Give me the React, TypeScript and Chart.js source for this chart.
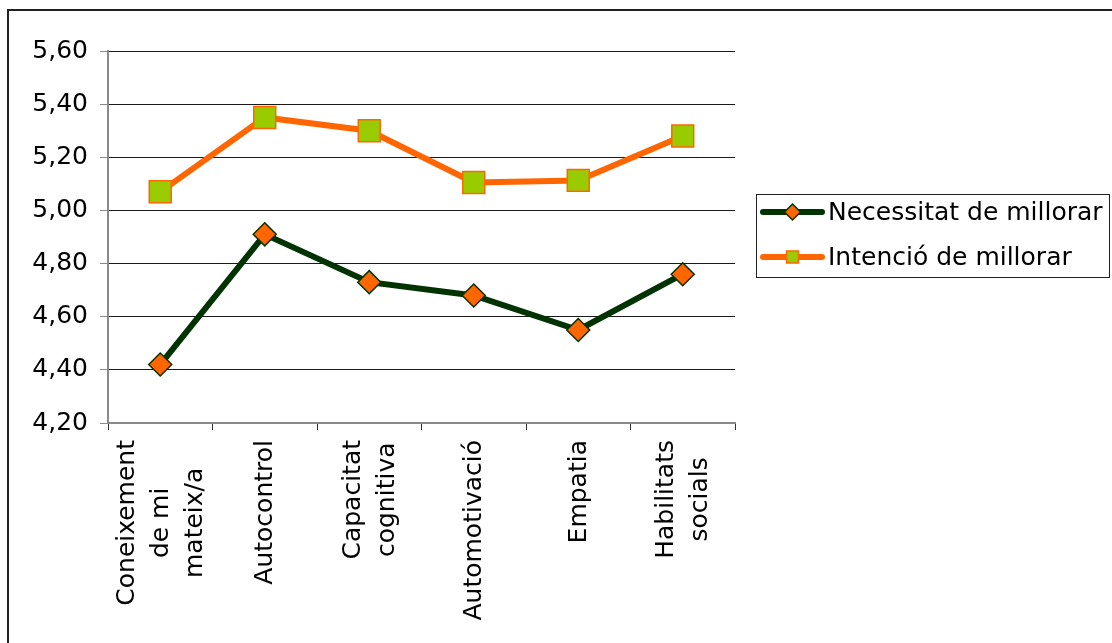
import React, { useEffect, useRef } from "react";
import { Chart, registerables } from "chart.js";

Chart.register(...registerables);

const categories: string[][] = [
  ["Coneixement", "de mi", "mateix/a"],
  ["Autocontrol"],
  ["Capacitat", "cognitiva"],
  ["Automotivació"],
  ["Empatia"],
  ["Habilitats", "socials"],
];
const seriesNames = ["Necessitat de millorar", "Intenció de millorar"];
const necessitat = [4.42, 4.91, 4.73, 4.68, 4.55, 4.76];
const intencio = [5.07, 5.35, 5.3, 5.105, 5.113, 5.28];
const yMin = 4.2;
const yMax = 5.6;
const yStep = 0.2;

const FONT = "DejaVu Sans";
const W = 1103;
const H = 632;

const drawDiamond = (ctx: CanvasRenderingContext2D, x: number, y: number, r: number) => {
  ctx.beginPath();
  ctx.moveTo(x, y - r);
  ctx.lineTo(x + r, y);
  ctx.lineTo(x, y + r);
  ctx.lineTo(x - r, y);
  ctx.closePath();
};

const customPlugin = {
  id: "custom",
  afterDraw(chart: any) {
    const ctx: CanvasRenderingContext2D = chart.ctx;
    const xs = chart.scales.x;
    ctx.save();
    ctx.fillStyle = "#000";
    ctx.font = `25px "${FONT}"`;
    // x labels, rotated, lines centered, block top-aligned
    const topY = xs.top + 17;
    const lh = 34;
    categories.forEach((lines, i) => {
      const cx = xs.getPixelForValue(i) + 1;
      let maxW = 0;
      lines.forEach((l) => {
        maxW = Math.max(maxW, ctx.measureText(l).width);
      });
      const cy = topY + maxW / 2;
      lines.forEach((l, j) => {
        ctx.save();
        ctx.translate(cx + (j - (lines.length - 1) / 2) * lh, cy);
        ctx.rotate(-Math.PI / 2);
        ctx.textAlign = "center";
        ctx.textBaseline = "middle";
        ctx.fillText(l, 0, 0);
        ctx.restore();
      });
    });

    // legend
    const bx = 747.5, by = 183.5, bw = 353, bh = 83;
    ctx.strokeStyle = "#222";
    ctx.lineWidth = 1;
    ctx.strokeRect(bx, by, bw, bh);
    const rows = [201, 246];
    const x0 = 754, x1 = 813, mx = 783.5;
    // row 1
    ctx.strokeStyle = "#003300";
    ctx.lineWidth = 6;
    ctx.lineCap = "round";
    ctx.beginPath();
    ctx.moveTo(x0, rows[0]);
    ctx.lineTo(x1, rows[0]);
    ctx.stroke();
    drawDiamond(ctx, mx, rows[0], 8);
    ctx.fillStyle = "#FF6600";
    ctx.fill();
    ctx.lineWidth = 1.5;
    ctx.stroke();
    // row 2
    ctx.strokeStyle = "#FF6600";
    ctx.lineWidth = 6;
    ctx.beginPath();
    ctx.moveTo(x0, rows[1]);
    ctx.lineTo(x1, rows[1]);
    ctx.stroke();
    ctx.fillStyle = "#99CC00";
    ctx.fillRect(mx - 6, rows[1] - 6, 12, 12);
    ctx.lineWidth = 1.5;
    ctx.strokeRect(mx - 6, rows[1] - 6, 12, 12);

    ctx.fillStyle = "#000";
    ctx.textAlign = "left";
    ctx.textBaseline = "middle";
    ctx.fillText(seriesNames[0], 819, rows[0] + 1);
    ctx.fillText(seriesNames[1], 819, rows[1] + 1);
    ctx.restore();
  },
};

export default function App() {
  const ref = useRef<HTMLCanvasElement | null>(null);
  useEffect(() => {
    if (!ref.current) return;
    Chart.defaults.font.family = FONT;
    const chart = new Chart(ref.current, {
      type: "line",
      data: {
        labels: categories.map((c) => c.join(" ")),
        datasets: [
          {
            label: seriesNames[0],
            data: necessitat,
            borderColor: "#003300",
            borderWidth: 6,
            pointStyle: "rectRot",
            pointRadius: 11.5,
            pointHoverRadius: 11.5,
            pointBackgroundColor: "#FF6600",
            pointBorderColor: "#003300",
            pointBorderWidth: 1.5,
            tension: 0,
          },
          {
            label: seriesNames[1],
            data: intencio,
            borderColor: "#FF6600",
            borderWidth: 6,
            pointStyle: "rect",
            pointRadius: 15.5,
            pointHoverRadius: 15.5,
            pointBackgroundColor: "#99CC00",
            pointBorderColor: "#FF6600",
            pointBorderWidth: 1.5,
            tension: 0,
          },
        ],
      },
      options: {
        responsive: false,
        animation: false,
        layout: { padding: { left: 0, top: 40, right: W - 726, bottom: 0 } },
        plugins: {
          legend: { display: false },
          tooltip: { enabled: false },
        },
        scales: {
          x: {
            type: "category",
            offset: true,
            grid: {
              offset: true,
              drawOnChartArea: false,
              drawTicks: true,
              tickLength: 7,
              tickColor: "#333",
            },
            border: { color: "#8a8a8a", width: 2 },
            ticks: { display: false },
            afterFit: (s: any) => {
              s.height = H - 412;
            },
          },
          y: {
            min: yMin,
            max: yMax,
            grid: {
              color: "#1a1a1a",
              lineWidth: 1,
              tickLength: 8,
              tickColor: "#8a8a8a",
            },
            border: { color: "#8a8a8a", width: 2 },
            ticks: {
              stepSize: yStep,
              padding: 12,
              color: "#000",
              font: { size: 25, family: FONT },
              callback: (v: any) => Number(v).toFixed(2).replace(".", ","),
            },
            afterFit: (s: any) => {
              s.width = 99;
            },
          },
        },
      },
      plugins: [customPlugin],
    } as any);
    return () => chart.destroy();
  }, []);
  return (
    <div
      style={{
        position: "fixed",
        left: 7,
        top: 9,
        width: 1105,
        height: 634,
        boxSizing: "border-box",
        borderTop: "2px solid #222",
        borderLeft: "2px solid #222",
        background: "#fff",
        overflow: "hidden",
      }}
    >
      <canvas ref={ref} width={W} height={H} style={{ display: "block", width: W, height: H }} />
    </div>
  );
}
